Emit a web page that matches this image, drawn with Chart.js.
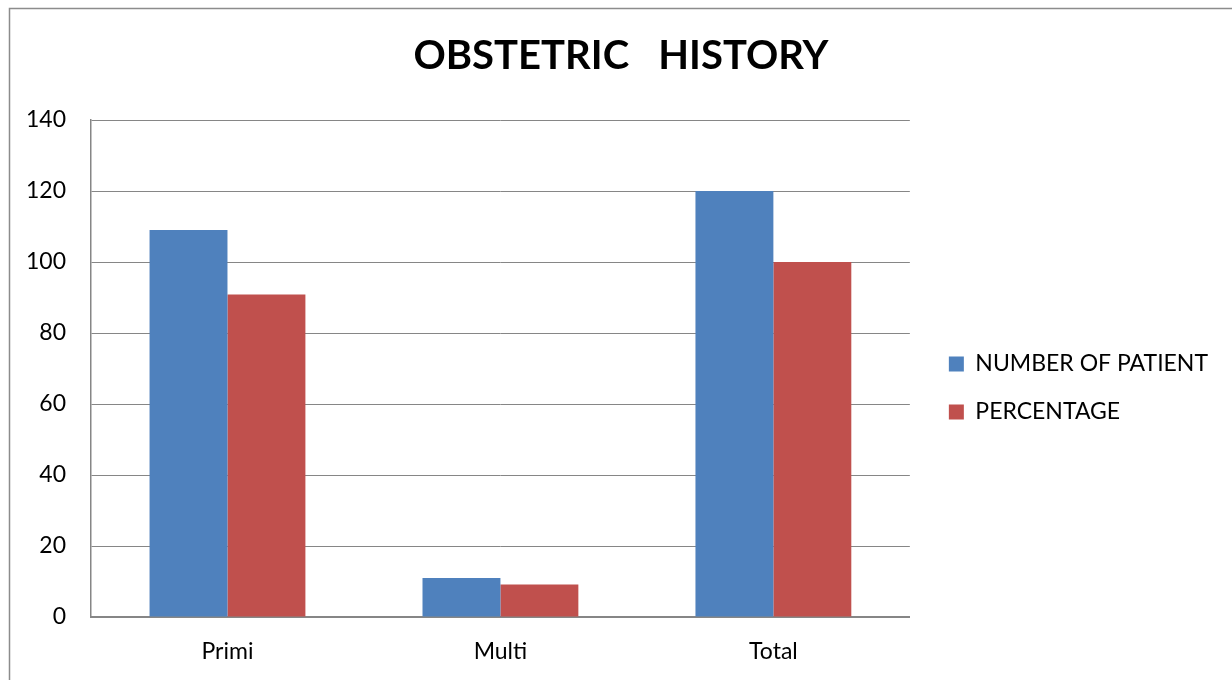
<!DOCTYPE html>
<html>
<head>
<meta charset="utf-8">
<script src="https://cdn.jsdelivr.net/npm/chart.js@4.4.1/dist/chart.umd.min.js"></script>
<style>
  html, body { margin: 0; padding: 0; background: #ffffff; }
  #wrap { width: 1232px; height: 680px; position: relative; }
</style>
</head>
<body>
<div id="wrap"><canvas id="chart" width="1232" height="680"></canvas></div>
<script>
// Obstetric history: patients by parity, with share of the total
const categories = ['Primi', 'Multi', 'Total'];
const patientCounts = [109, 11, 120];
const percentages = [90.83, 9.17, 100];
const yTicks = [0, 20, 40, 60, 80, 100, 120, 140];
const seriesNames = ['NUMBER OF PATIENT', 'PERCENTAGE'];

const FONT = 'Lato, "Open Sans", sans-serif';
const GRID = '#868686';

// Thin grey frame around the whole chart
const framePlugin = {
  id: 'frame',
  beforeDraw(chart) {
    const ctx = chart.ctx;
    ctx.save();
    ctx.fillStyle = '#ffffff';
    ctx.fillRect(0, 0, chart.width, chart.height);
    ctx.strokeStyle = '#8c8c8c';
    ctx.lineWidth = 1.5;
    ctx.strokeRect(9.5, 8.5, chart.width + 20, chart.height + 20);
    ctx.restore();
  }
};

// Shift the legend block a little lower inside its box
const legendNudge = {
  id: 'legendNudge',
  afterLayout(chart) {
    const lg = chart.legend;
    if (lg) { lg.top += 48; lg.bottom += 48; }
  }
};

new Chart(document.getElementById('chart'), {
  type: 'bar',
  data: {
    labels: categories,
    datasets: [
      { label: seriesNames[0], data: patientCounts, backgroundColor: '#4f81bd', borderWidth: 0 },
      { label: seriesNames[1], data: percentages, backgroundColor: '#c0504d', borderWidth: 0 }
    ]
  },
  options: {
    responsive: false,
    animation: false,
    devicePixelRatio: 1,
    layout: { padding: { left: 24, right: 14, top: 0, bottom: 0 } },
    datasets: { bar: { categoryPercentage: 0.571, barPercentage: 1.0 } },
    plugins: {
      tooltip: { enabled: false },
      title: {
        display: true,
        text: 'OBSTETRIC   HISTORY',
        color: '#000000',
        font: { family: FONT, size: 40, weight: 'bold' },
        padding: { top: 32.5, bottom: 39.5 }
      },
      legend: {
        display: true,
        position: 'right',
        align: 'center',
        maxWidth: 360,
        labels: {
          color: '#000000',
          font: { family: FONT, size: 23 },
          boxWidth: 15,
          boxHeight: 15,
          padding: 25
        }
      }
    },
    scales: {
      x: {
        grid: { display: false, drawTicks: false },
        border: { display: true, color: GRID, width: 2 },
        ticks: { color: '#000000', font: { family: FONT, size: 23 }, padding: 21, maxRotation: 0 },
        afterFit(scale) { scale.height = 63; }
      },
      y: {
        min: 0,
        max: 140,
        afterBuildTicks(scale) { scale.ticks = yTicks.map(v => ({ value: v })); },
        grid: { color: GRID, lineWidth: 1, drawTicks: false },
        border: { display: true, color: GRID, width: 1.5 },
        ticks: { color: '#000000', font: { family: FONT, size: 23 }, padding: 25 },
        afterFit(scale) { scale.width = 67; }
      },
      gap: {
        type: 'linear',
        position: 'right',
        display: true,
        grid: { display: false, drawTicks: false },
        border: { display: false },
        ticks: { display: false },
        afterFit(scale) { scale.width = 14; }
      }
    }
  },
  plugins: [framePlugin, legendNudge]
});
</script>
</body>
</html>
